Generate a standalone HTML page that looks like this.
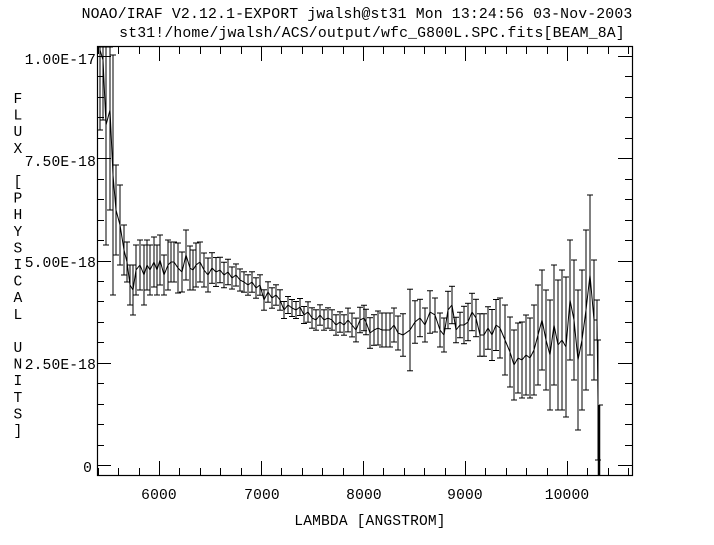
<!DOCTYPE html>
<html><head><style>
html,body{margin:0;padding:0;background:#fff;}
svg{display:block;}
text{font-family:"Liberation Mono","DejaVu Sans Mono",monospace;fill:#000;letter-spacing:0.15px;}
</style></head><body>
<svg id="s" width="714" height="545" xmlns="http://www.w3.org/2000/svg">
<rect width="714" height="545" fill="#fff"/>
<text x="357" y="18" font-size="14.8" text-anchor="middle">NOAO/IRAF V2.12.1-EXPORT jwalsh@st31 Mon 13:24:56 03-Nov-2003</text>
<text x="372" y="37" font-size="14.8" text-anchor="middle">st31!/home/jwalsh/ACS/output/wfc_G800L.SPC.fits[BEAM_8A]</text>
<rect x="97.5" y="46.5" width="535" height="429" fill="none" stroke="#000" stroke-width="1.2"/>
<g id="ticks" stroke="#000" stroke-width="1" shape-rendering="crispEdges"></g>
<g font-size="14.6" text-anchor="end">
<text x="96" y="64">1.00E-17</text>
<text x="96" y="166">7.50E-18</text>
<text x="96" y="267">5.00E-18</text>
<text x="96" y="369">2.50E-18</text>
<text x="92" y="472">0</text>
</g>
<g font-size="14.6" text-anchor="middle">
<text x="159" y="499">6000</text>
<text x="262" y="499">7000</text>
<text x="364" y="499">8000</text>
<text x="465" y="499">9000</text>
<text x="567" y="499">10000</text>
<text x="370" y="525">LAMBDA [ANGSTROM]</text>
</g>
<g id="ylab" font-size="14.6" text-anchor="middle"></g>
<g id="data" stroke="#000" fill="none" stroke-width="1"></g>
</svg>
<script>
var NS="http://www.w3.org/2000/svg";
function el(p,t,a,txt){var e=document.createElementNS(NS,t);for(var k in a)e.setAttribute(k,a[k]);if(txt)e.textContent=txt;document.getElementById(p).appendChild(e);}
for(var l=5400;l<=10600;l+=200){var x=Math.round(159+(l-6000)*0.102)+0.5;var L=(l%1000==0)?14:7;
el("ticks","line",{x1:x,y1:475,x2:x,y2:475-L});el("ticks","line",{x1:x,y1:47,x2:x,y2:47+L});}
for(var f=0;f<=10;f+=0.5){var y=Math.round(465-f*40.9)+0.5;var L=(f%2.5==0)?14:7;
el("ticks","line",{x1:97,y1:y,x2:97+L,y2:y});el("ticks","line",{x1:632,y1:y,x2:632-L,y2:y});}
var s="FLUX [PHYSICAL UNITS]";for(var i=0;i<s.length;i++){if(s[i]!=" ")el("ylab","text",{x:18,y:103+i*16.6},s[i]);}
var P=[[100,50,80],[103,60,60],[106,125,120],[110,110,100],[113,175,120],[116,210,45],[120,225,40],[124,250,25],[127,262,20],[130,285,20],[133,290,25],[136,270,25],[140,265,25],[144,275,30],[147,265,25],[150,270,25],[154,262,25],[157,270,25],[160,260,25],[164,275,20],[168,265,25],[171,262,20],[174,262,20],[178,268,25],[182,272,20],[186,255,25],[190,268,22],[193,270,20],[196,265,22],[200,262,20],[204,270,20],[208,275,20],[212,268,18],[216,272,17],[220,270,15],[224,275,15],[228,272,15],[232,278,13],[236,275,13],[240,280,13],[244,282,12],[248,285,12],[252,282,12],[256,288,12],[260,285,12],[264,300,12],[268,292,12],[272,298,12],[276,295,12],[280,300,12],[284,310,10],[288,305,10],[292,308,10],[296,310,10],[300,307,10],[304,315,10],[308,312,12],[312,318,12],[316,320,12],[320,315,12],[324,320,12],[328,318,12],[332,320,12],[336,325,12],[340,322,12],[344,325,12],[348,320,14],[352,325,14],[356,330,14],[360,320,15],[364,318,15],[366,322,15],[370,333,18],[374,330,18],[378,328,20],[382,330,20],[386,330,20],[390,330,20],[394,325,20],[398,333,20],[403,335,25],[410,330,48],[415,322,25],[420,318,22],[425,325,20],[430,312,25],[435,315,20],[440,330,20],[444,335,20],[448,310,22],[452,305,22],[456,330,15],[460,325,15],[464,325,22],[468,322,22],[472,312,22],[476,318,22],[480,335,25],[484,335,25],[488,328,25],[492,335,30],[496,325,30],[500,328,30],[505,340,35],[510,352,35],[514,365,35],[518,358,35],[522,360,38],[526,355,40],[530,358,40],[534,350,45],[538,335,50],[542,320,50],[546,340,50],[550,355,55],[554,325,60],[558,345,65],[562,340,70],[566,347,70],[570,300,60],[574,320,60],[578,360,70],[582,340,70],[586,310,80],[590,275,80],[594,320,60],[597,320,20],[598,400,60]];
var d="";P.forEach(function(p,i){d+=(i?"L":"M")+p[0]+" "+p[1];
var e=p[0]>200&&p[0]<500?p[2]*0.85:p[2];
var t=Math.max(47,p[1]-e),b=Math.min(475,p[1]+e);
el("data","line",{x1:p[0],y1:t,x2:p[0],y2:b});el("data","line",{x1:p[0]-3,y1:t,x2:p[0]+3,y2:t});el("data","line",{x1:p[0]-3,y1:b,x2:p[0]+3,y2:b});});
el("data","path",{d:d});
el("data","line",{x1:599,y1:405,x2:599,y2:475,"stroke-width":2.5});
el("data","line",{x1:599,y1:405,x2:603,y2:405});
</script>
</body></html>
